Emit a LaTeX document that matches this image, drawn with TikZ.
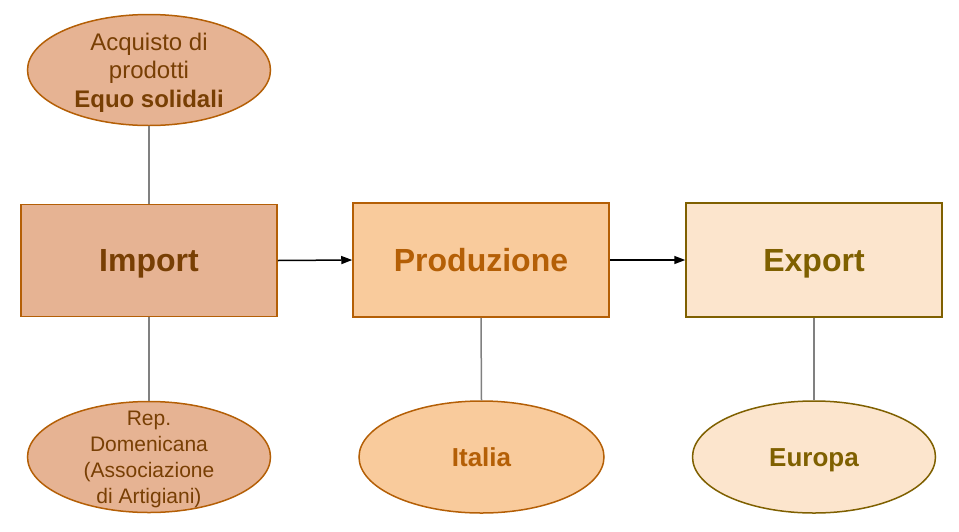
\documentclass[tikz,border=0pt]{standalone}
\usepackage{fontspec}
\setmainfont{Liberation Sans}
\usetikzlibrary{shapes.geometric,arrows.meta}
\definecolor{impfill}{HTML}{E6B393}
\definecolor{impline}{HTML}{B45F06}
\definecolor{imptext}{HTML}{783F04}
\definecolor{prodfill}{HTML}{F9CB9C}
\definecolor{prodline}{HTML}{B45F06}
\definecolor{prodtext}{HTML}{B45F06}
\definecolor{expfill}{HTML}{FCE5CD}
\definecolor{expline}{HTML}{7F6000}
\definecolor{exptext}{HTML}{7F6000}
\definecolor{linkgray}{HTML}{808080}
\tikzset{
  box/.style={rectangle, draw, line width=1.5pt, minimum width=256pt, minimum height=112pt, inner sep=0pt,
    font=\fontsize{32}{36}\selectfont\bfseries, text height=22.9pt, text depth=0pt},
  ell/.style={ellipse, draw, line width=1.5pt, minimum width=243pt, minimum height=111pt, inner sep=0pt},
  etext/.style={align=center, inner sep=0pt},
  big/.style={font=\fontsize{26}{30}\selectfont\bfseries, text height=18.6pt, text depth=0pt},
  link/.style={draw=linkgray, line width=1.5pt},
  flow/.style={draw=black, line width=1.5pt, -{Triangle[length=11pt,width=8pt]}},
  impstyle/.style={fill=impfill, draw=impline, text=imptext},
  prodstyle/.style={fill=prodfill, draw=prodline, text=prodtext},
  expstyle/.style={fill=expfill, draw=expline, text=exptext},
}
\begin{document}
\begin{tikzpicture}[x=1pt,y=-1pt]
\useasboundingbox (0,0) rectangle (959,531);
% boxes
\node[box, impstyle] (imp) at (149,260.5) {Import};
\node[box, prodstyle, minimum height=114pt] (prod) at (481,260) {Produzione};
\node[box, expstyle, minimum height=114pt] (exp) at (814,260) {Export};
% ellipses
\node[ell, impstyle] (acq) at (149,70) {};
\node[etext, text=imptext, font=\fontsize{24}{28.5}\selectfont] (acqt) at (149,72.5) {Acquisto di\\prodotti\\\textbf{Equo solidali}};
\node[ell, impstyle] (rep) at (149,457) {};
\node[etext, text=imptext, font=\fontsize{21}{26}\selectfont] (rept) at (149,459) {Rep.\\Domenicana\\(Associazione\\di Artigiani)};
\node[ell, prodstyle, minimum width=245pt, minimum height=112pt] (ita) at (481.5,457) {};
\node[etext, big, text=prodtext] (itat) at (ita) {Italia};
\node[ell, expstyle, minimum height=112pt] (eur) at (814,457) {};
\node[etext, big, text=exptext] (eurt) at (eur) {Europa};
% links
\draw[link] (acq.south) -- (imp.north);
\draw[link] (imp.south) -- (rep.north);
\draw[link] (prod.south) -- (ita.north);
\draw[link] (exp.south) -- (eur.north);
% flow arrows
\draw[flow] (imp.east) -- (prod.west);
\draw[flow] (prod.east) -- (exp.west);
\end{tikzpicture}
\end{document}
